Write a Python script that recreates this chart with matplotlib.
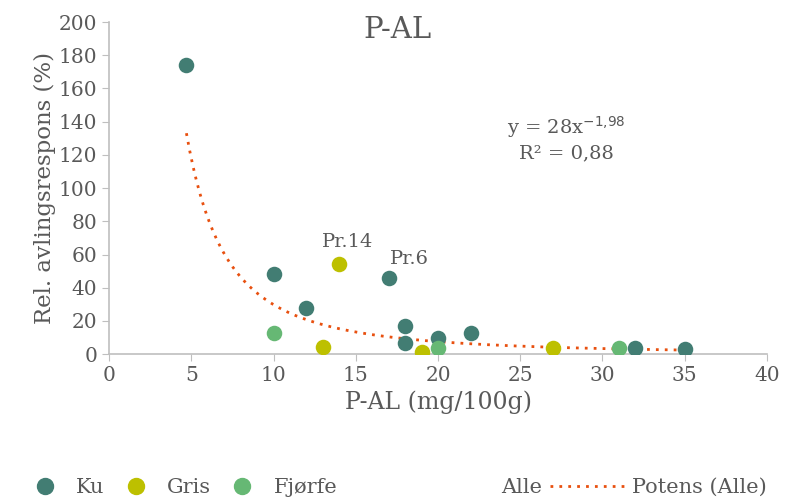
import numpy as np
import matplotlib
matplotlib.use('Agg')
import matplotlib.pyplot as plt
from matplotlib.lines import Line2D

# data
ku_x = [4.7, 10, 12, 17, 18, 18, 20, 22, 32, 35]
ku_y = [174, 48.5, 28, 46, 17, 6.5, 9.5, 12.5, 3.6, 3]
gris_x = [13, 14, 19, 27]
gris_y = [4.3, 54.5, 1.2, 3.6]
fjorfe_x = [10, 20, 31]
fjorfe_y = [12.5, 4, 4]

# power trend (Potens) fitted on all points
fit_a = 2850
fit_b = -1.98
fit_range = (4.7, 35)

labels = {'Pr.14': (14, 54.5), 'Pr.6': (17, 46)}

C_KU = '#427D73'
C_GRIS = '#BDC000'
C_FJORFE = '#66B874'
C_TREND = '#E8500F'
TXT = '#595959'

plt.rcParams['font.family'] = ['DejaVu Serif']

fig = plt.figure(figsize=(7.85, 5.01), dpi=100)
ax = fig.add_axes([0.139, 0.293, 0.838, 0.663])

ax.scatter(ku_x, ku_y, s=125, color=C_KU, zorder=3, linewidths=0)
ax.scatter(gris_x, gris_y, s=125, color=C_GRIS, zorder=3, linewidths=0)
ax.scatter(fjorfe_x, fjorfe_y, s=125, color=C_FJORFE, zorder=3, linewidths=0)

xf = np.linspace(fit_range[0], fit_range[1], 300)
ax.plot(xf, fit_a * xf ** fit_b, color=C_TREND, linestyle=(0, (1, 2.2)), lw=2, zorder=2)

ax.annotate('Pr.14', labels['Pr.14'], xytext=(6, 9), textcoords='offset points',
            ha='center', va='bottom', fontsize=14, color=TXT)
ax.annotate('Pr.6', labels['Pr.6'], xytext=(15, 7), textcoords='offset points',
            ha='center', va='bottom', fontsize=14, color=TXT)

ax.text(27.8, 137, 'y = 28x$^{-1{,}98}$', ha='center', va='center', fontsize=14, color=TXT)
ax.text(27.8, 121, 'R² = 0,88', ha='center', va='center', fontsize=14, color=TXT)

fig.text(0.506, 0.94, 'P-AL', ha='center', va='center', fontsize=21, color=TXT)
ax.set_xlim(0, 40)
ax.set_ylim(0, 200)
ax.set_xticks(range(0, 41, 5))
ax.set_yticks(range(0, 201, 20))
ax.tick_params(colors='#BFBFBF', labelcolor=TXT, labelsize=14.5, length=5)
for s in ['top', 'right']:
    ax.spines[s].set_visible(False)
for s in ['left', 'bottom']:
    ax.spines[s].set_color('#BFBFBF')
    ax.spines[s].set_linewidth(1.2)
ax.set_xlabel('P-AL (mg/100g)', fontsize=17, color=TXT, labelpad=4)
ax.set_ylabel('Rel. avlingsrespons (%)', fontsize=16.5, color=TXT, labelpad=2)

h_left = [Line2D([], [], marker='o', ls='none', color=c, markersize=11.5)
          for c in (C_KU, C_GRIS, C_FJORFE)]
fig.legend(h_left, ['Ku', 'Gris', 'Fjørfe'], loc='lower left',
           bbox_to_anchor=(0.02, -0.03), ncol=3, frameon=False, fontsize=15,
           labelcolor=TXT, handlelength=1, handletextpad=1.0, columnspacing=1.0)

h_right = [Line2D([], [], ls='none'),
           Line2D([], [], color=C_TREND, linestyle=(0, (1, 2.2)), lw=2)]
fig.legend(h_right, ['Alle', 'Potens (Alle)'], loc='lower right',
           bbox_to_anchor=(1.0, -0.03), ncol=2, frameon=False, fontsize=15,
           labelcolor=TXT, handlelength=3.6, handletextpad=0.3, columnspacing=0.4)

fig.savefig('out.png', dpi=100)
